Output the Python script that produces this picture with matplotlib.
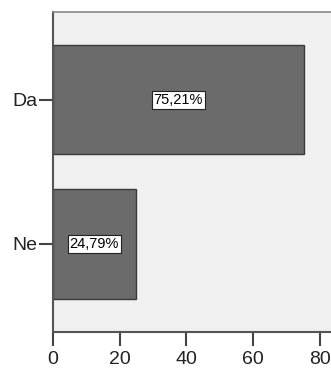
import matplotlib
matplotlib.use("Agg")
import matplotlib.pyplot as plt

categories = ["Ne", "Da"]
values = [24.79, 75.21]
labels = ["24,79%", "75,21%"]
xticks = [0, 20, 40, 60, 80]

plt.rcParams['font.family'] = ['Liberation Sans', 'DejaVu Sans']

fig = plt.figure(figsize=(3.31, 3.69), dpi=100)
ax = fig.add_axes([0.160, 0.1003, 0.84, 0.8672])
ax.set_facecolor('#f0f0f0')

pos = list(range(len(categories)))
bars = ax.barh(pos, values, height=0.757, color='#6b6b6b',
               edgecolor='#3a3a3a', linewidth=1.0)

for b, lab in zip(bars, labels):
    ax.text(b.get_width() / 2, b.get_y() + b.get_height() / 2, lab,
            ha='center', va='center', fontsize=10.5, color='black',
            bbox=dict(boxstyle='square,pad=0.12', facecolor='white',
                      edgecolor='#222222', linewidth=0.8))

ax.set_yticks(pos)
ax.set_yticklabels(categories, fontsize=14, color='#222222')
ax.set_xticks(xticks)
ax.set_xticklabels([str(t) for t in xticks], fontsize=14, color='#222222')
ax.set_xlim(0, 83.4)
ax.set_ylim(-0.611, 1.611)

ax.tick_params(axis='y', length=10, width=1.5, color='#444444', pad=1)
ax.tick_params(axis='x', length=10, width=1.5, color='#444444', pad=4)

for s in ['left', 'bottom']:
    ax.spines[s].set_color('#555555')
    ax.spines[s].set_linewidth(1.5)
ax.spines['right'].set_visible(False)
ax.spines['top'].set_color('#888888')
ax.spines['top'].set_linewidth(1.2)

fig.savefig('out.png', dpi=100)
